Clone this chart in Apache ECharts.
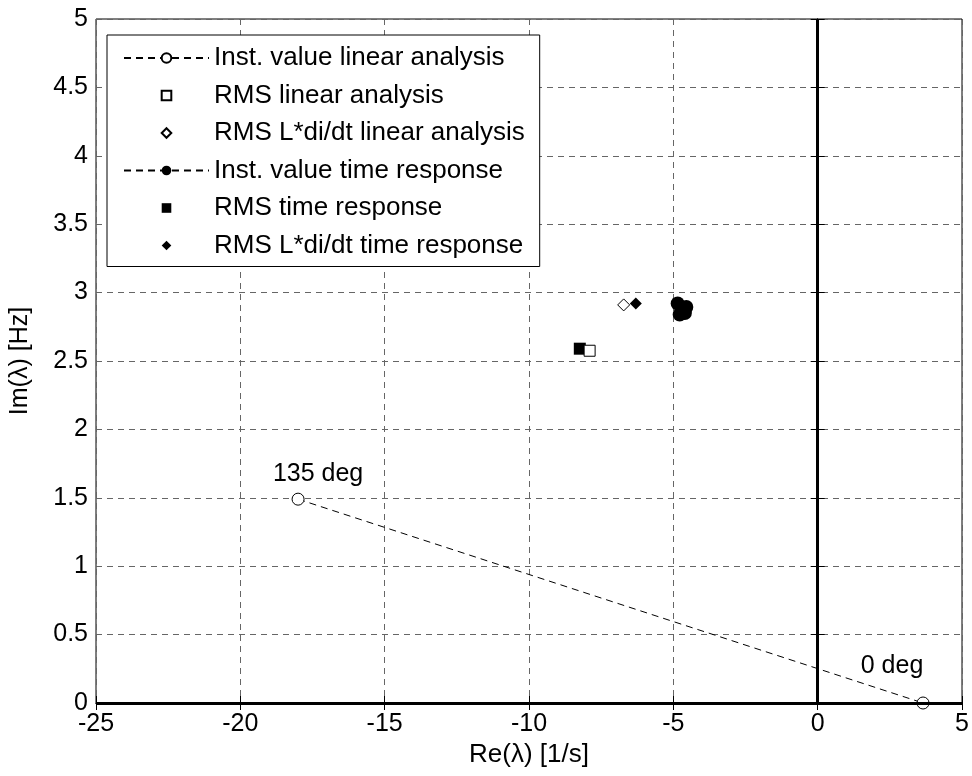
<!DOCTYPE html>
<html>

<head>
    <meta charset="UTF-8" />
    <script src="https://cdn.jsdelivr.net/npm/echarts@6/dist/echarts.min.js"></script>
</head>

<body style="margin: 0; overflow: hidden; background: #fff; width: 972px; height: 776px;">
    <div id="chart" style="width: 972px; height: 776px;"></div>
    <script type="text/javascript">

        // data
        const instLinear = [[-18, 1.49], [3.65, 0]];
        const instLinearLabels = ['135 deg', '0 deg'];
        const rmsLinear = [[-7.9, 2.575]];
        const rmsLdiLinear = [[-6.72, 2.91]];
        const instTime = [[-4.85, 2.92], [-4.55, 2.895], [-4.78, 2.84], [-4.6, 2.85]];
        const rmsTime = [[-8.24, 2.59]];
        const rmsLdiTime = [[-6.3, 2.92]];
        const seriesNames = [
            'Inst. value linear analysis',
            'RMS linear analysis',
            'RMS L*di/dt linear analysis',
            'Inst. value time response',
            'RMS time response',
            'RMS L*di/dt time response'
        ];

        const font = 'Arial, "Liberation Sans", sans-serif';
        const fs = 25;
        const myChart = echarts.init(document.getElementById('chart'));

        const openStyle = { color: '#fff', borderColor: '#000', borderWidth: 1 };
        const fillStyle = { color: '#000', borderColor: '#000', borderWidth: 0 };
        const noLine = { width: 0, opacity: 0 };
        const dashLine = { color: '#000', width: 1, type: [7, 5] };

        // label offsets for the two annotated points
        const labelOffsets = [[20, -1], [-31, -13]];

        const option = {
            animation: false,
            textStyle: { fontFamily: font, color: '#000' },
            grid: {
                left: 96, right: 10, top: 19, bottom: 73,
                show: true, borderColor: '#000', borderWidth: 1
            },
            legend: {
                orient: 'vertical',
                left: 107, top: 35,
                data: seriesNames,
                backgroundColor: '#fff',
                borderColor: '#000',
                borderWidth: 1,
                padding: [8, 15, 6, 16],
                itemWidth: 85,
                itemHeight: 12,
                itemGap: 7.5,
                textStyle: { fontFamily: font, fontSize: 26, color: '#000', lineHeight: 30 }
            },
            xAxis: [{
                type: 'value', min: -25, max: 5, interval: 5,
                name: 'Re(\u03bb) [1/s]', nameLocation: 'middle', nameGap: 39,
                nameTextStyle: { fontSize: 26, color: '#000', fontFamily: font },
                axisLine: { show: true, lineStyle: { color: '#000', width: 1 } },
                axisTick: { inside: true, length: 7, lineStyle: { color: '#000' } },
                axisLabel: { fontSize: fs, color: '#000', margin: 9, fontFamily: font },
                splitLine: { show: true, lineStyle: { color: '#666', type: [6, 5] } }
            }, {
                type: 'value', min: -25, max: 5, interval: 5, position: 'top',
                axisLine: { show: true, lineStyle: { color: '#000' } },
                axisTick: { inside: true, length: 7, lineStyle: { color: '#000' } },
                axisLabel: { show: false },
                splitLine: { show: false }
            }],
            yAxis: [{
                type: 'value', min: 0, max: 5, interval: 0.5,
                name: 'Im(\u03bb) [Hz]', nameLocation: 'middle', nameGap: 63, nameRotate: 90,
                nameTextStyle: { fontSize: fs, color: '#000', fontFamily: font },
                axisLine: { show: true, lineStyle: { color: '#000' } },
                axisTick: { inside: true, length: 7, lineStyle: { color: '#000' } },
                axisLabel: { fontSize: fs, color: '#000', margin: 8, fontFamily: font },
                splitLine: { show: true, lineStyle: { color: '#666', type: [6, 5] } }
            }, {
                type: 'value', min: 0, max: 5, interval: 0.5, position: 'right',
                axisLine: { show: true, lineStyle: { color: '#000' } },
                axisTick: { inside: true, length: 7, lineStyle: { color: '#000' } },
                axisLabel: { show: false },
                splitLine: { show: false }
            }],
            series: [{
                name: seriesNames[0], type: 'line',
                data: instLinear.map((p, i) => ({
                    value: p,
                    label: {
                        show: true, formatter: instLinearLabels[i], position: 'top',
                        offset: labelOffsets[i], fontSize: fs, color: '#000', fontFamily: font
                    }
                })),
                symbol: 'circle', symbolSize: 12, showAllSymbol: true,
                itemStyle: openStyle, lineStyle: dashLine, z: 3,
                markLine: {
                    silent: true, symbol: 'none', animation: false,
                    label: { show: false },
                    lineStyle: { color: '#000', width: 3, type: 'solid' },
                    data: [{ xAxis: 0 }, { yAxis: 0 }]
                }
            }, {
                name: seriesNames[1], type: 'line', data: rmsLinear,
                symbol: 'rect', symbolSize: 11, itemStyle: openStyle, lineStyle: noLine, z: 3
            }, {
                name: seriesNames[2], type: 'line', data: rmsLdiLinear,
                symbol: 'diamond', symbolSize: 12, itemStyle: openStyle, lineStyle: noLine, z: 3
            }, {
                name: seriesNames[3], type: 'line', data: instTime,
                symbol: 'circle', symbolSize: 14, itemStyle: fillStyle, lineStyle: dashLine, z: 4
            }, {
                name: seriesNames[4], type: 'line', data: rmsTime,
                symbol: 'rect', symbolSize: 12, itemStyle: fillStyle, lineStyle: noLine, z: 2
            }, {
                name: seriesNames[5], type: 'line', data: rmsLdiTime,
                symbol: 'diamond', symbolSize: 12, itemStyle: fillStyle, lineStyle: noLine, z: 4
            }]
        };

        myChart.setOption(option);

    </script>
</body>

</html>
